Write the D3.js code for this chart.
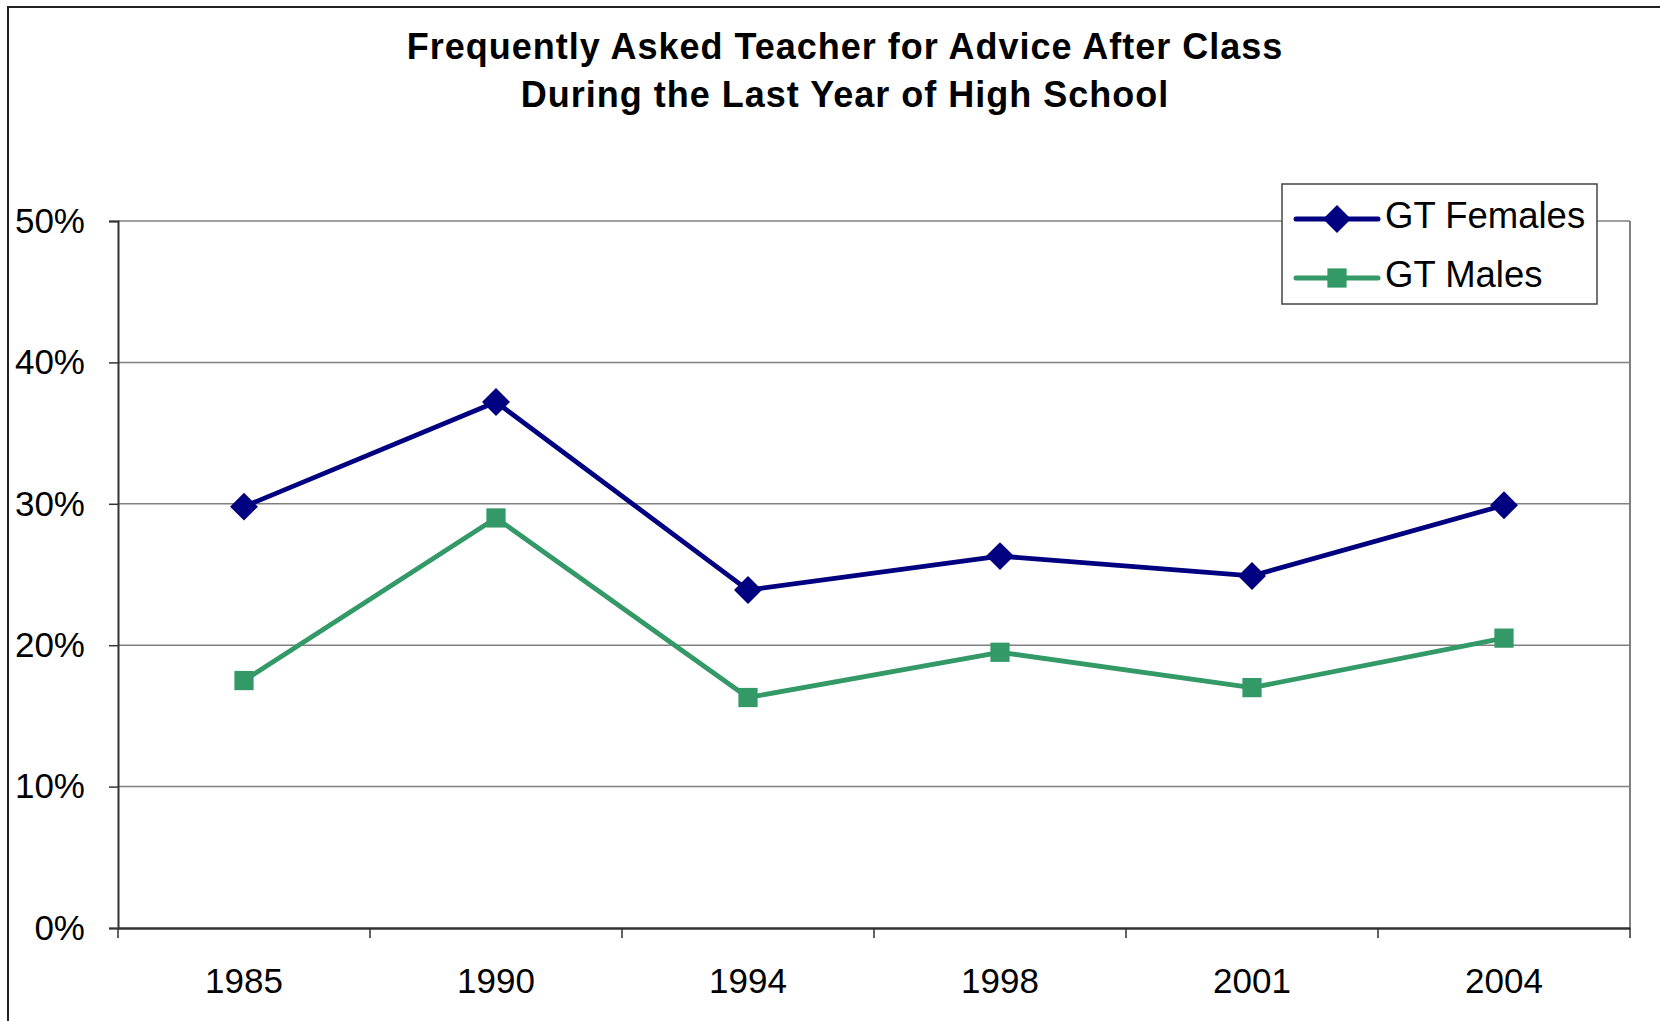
<!DOCTYPE html>
<html>
<head>
<meta charset="utf-8">
<script src="https://cdn.jsdelivr.net/npm/d3@7"></script>
<style>
  body { margin: 0; background: #fff; }
  text { font-family: "Liberation Sans", Arial, sans-serif; }
</style>
</head>
<body>
<svg id="chart" width="1660" height="1021"></svg>
<script>
// data
var years = ["1985", "1990", "1994", "1998", "2001", "2004"];
var females = [29.8, 37.2, 23.9, 26.3, 24.9, 29.9];
var males = [17.5, 29.0, 16.3, 19.5, 17.0, 20.5];
var yTicks = [0, 10, 20, 30, 40, 50];
var titleLines = ["Frequently Asked Teacher for Advice After Class", "During the Last Year of High School"];

var svg = d3.select("#chart"),
  width = +svg.attr("width"),
  height = +svg.attr("height");

var margin = {left: 118, right: 30, top: 221, bottom: 93};

// outer frame
svg.append("rect")
  .attr("x", 8).attr("y", 7)
  .attr("width", width).attr("height", height)
  .attr("fill", "none").attr("stroke", "#222").attr("stroke-width", 2);

// scales
var x = d3.scaleBand()
  .domain(years)
  .range([margin.left, width - margin.right]);
var y = d3.scaleLinear()
  .domain([0, 50])
  .range([height - margin.bottom, margin.top]);

// gridlines
svg.append("g")
  .selectAll("line")
  .data(yTicks.slice(1))
  .enter()
  .append("line")
    .attr("x1", margin.left).attr("x2", width - margin.right)
    .attr("y1", function(d) { return y(d); })
    .attr("y2", function(d) { return y(d); })
    .attr("stroke", "#808080").attr("stroke-width", 1.5);

// right border
svg.append("line")
  .attr("x1", width - margin.right).attr("x2", width - margin.right)
  .attr("y1", y(50)).attr("y2", y(0))
  .attr("stroke", "#808080").attr("stroke-width", 2);

// y axis
var yAxis = svg.append("g")
  .attr("transform", "translate(" + margin.left + ",0)")
  .call(d3.axisLeft(y).tickValues(yTicks).tickSize(9).tickPadding(24)
    .tickFormat(function(d) { return d + "%"; }));
yAxis.select(".domain").attr("stroke", "#333").attr("stroke-width", 2);
yAxis.selectAll(".tick line").attr("stroke", "#333").attr("stroke-width", 1.5);
yAxis.selectAll("text").attr("font-size", 35).attr("fill", "#000")
  .attr("font-family", "Liberation Sans, Arial, sans-serif");

// x axis
var xAxis = svg.append("g")
  .attr("transform", "translate(0," + y(0) + ")")
  .call(d3.axisBottom(x).tickSize(0).tickPadding(40));
xAxis.select(".domain").attr("stroke", "#333").attr("stroke-width", 2.5);
xAxis.selectAll("text").attr("font-size", 35).attr("fill", "#000")
  .attr("font-family", "Liberation Sans, Arial, sans-serif");
// boundary ticks between categories
xAxis.append("g")
  .selectAll("line")
  .data(years.concat(["end"]))
  .enter()
  .append("line")
    .attr("x1", function(d, i) { return margin.left + i * x.step(); })
    .attr("x2", function(d, i) { return margin.left + i * x.step(); })
    .attr("y1", 0).attr("y2", 10)
    .attr("stroke", "#333").attr("stroke-width", 1.5);

var cx = function(d, i) { return x(years[i]) + x.bandwidth() / 2; };
var line = d3.line()
  .x(cx)
  .y(function(d) { return y(d); });

// series
var series = [
  {name: "GT Females", values: females, color: "#000080", shape: d3.symbolSquare, size: 390, rotate: 45},
  {name: "GT Males", values: males, color: "#339966", shape: d3.symbolSquare, size: 370, rotate: 0}
];

series.slice().reverse().forEach(function(s) {
  svg.append("path")
    .datum(s.values)
    .attr("d", line)
    .attr("fill", "none")
    .attr("stroke", s.color)
    .attr("stroke-width", 4.8)
    .attr("stroke-linejoin", "round");
  svg.append("g")
    .selectAll("path")
    .data(s.values)
    .enter()
    .append("path")
      .attr("transform", function(d, i) {
        return "translate(" + cx(d, i) + "," + y(d) + ") rotate(" + s.rotate + ")";
      })
      .attr("d", d3.symbol().type(s.shape).size(s.size))
      .attr("fill", s.color);
});

// title
svg.append("text")
  .attr("x", 845).attr("y", 59)
  .attr("text-anchor", "middle")
  .attr("font-size", 36).attr("font-weight", "bold")
  .attr("letter-spacing", 1)
  .selectAll("tspan")
  .data(titleLines)
  .enter()
  .append("tspan")
    .attr("x", 845)
    .attr("dy", function(d, i) { return i ? 48 : 0; })
    .text(function(d) { return d; });

// legend
var legend = svg.append("g").attr("transform", "translate(1282,184)");
legend.append("rect")
  .attr("width", 315).attr("height", 120)
  .attr("fill", "#fff").attr("stroke", "#444").attr("stroke-width", 1.5);
series.forEach(function(s, i) {
  var g = legend.append("g").attr("transform", "translate(0," + (35 + i * 59) + ")");
  g.append("line")
    .attr("x1", 14).attr("x2", 96)
    .attr("stroke", s.color).attr("stroke-width", 5).attr("stroke-linecap", "round");
  g.append("path")
    .attr("transform", "translate(55,0) rotate(" + s.rotate + ")")
    .attr("d", d3.symbol().type(s.shape).size(s.size))
    .attr("fill", s.color);
  g.append("text")
    .attr("x", 103).attr("y", 9)
    .attr("font-size", 36.5)
    .text(s.name);
});
</script>
</body>
</html>
